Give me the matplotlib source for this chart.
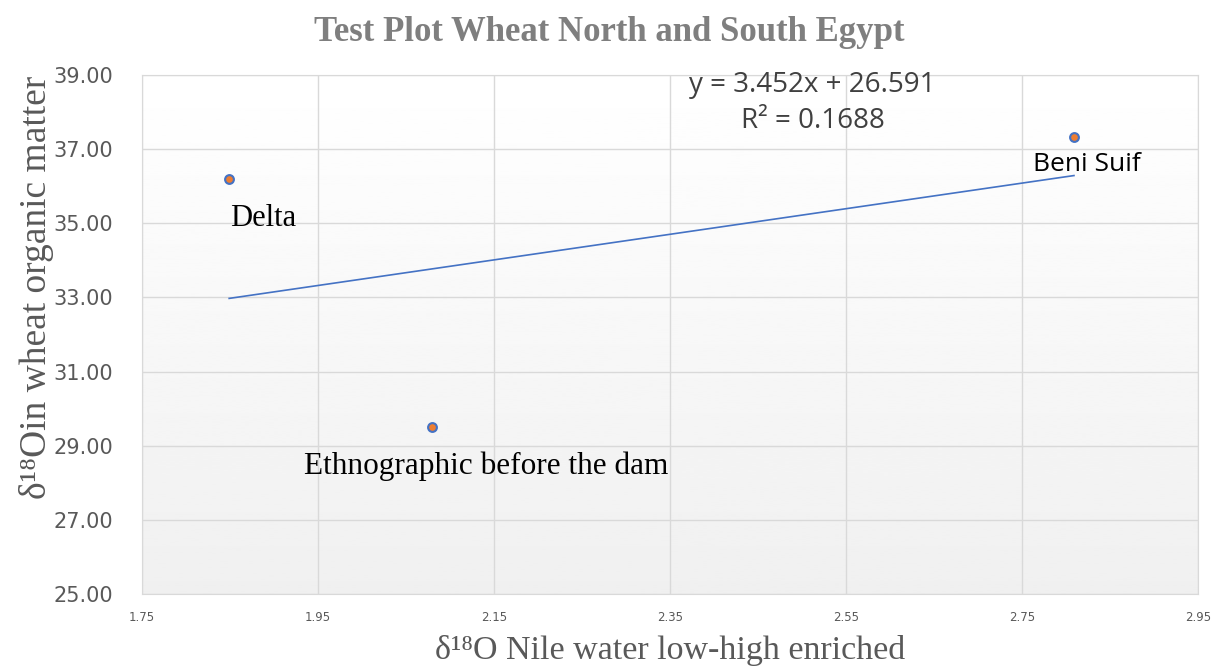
import numpy as np
import matplotlib
matplotlib.use("Agg")
import matplotlib.pyplot as plt
from matplotlib import font_manager

# data
sites = ["Delta", "Ethnographic before the dam", "Beni Suif"]
nile_d18o = [1.849, 2.079, 2.809]
wheat_d18o = [36.19, 29.50, 37.33]

# excel linear trendline as shown on the chart
slope = 3.452
intercept = 26.591
r2 = 0.1688

xticks = [1.75, 1.95, 2.15, 2.35, 2.55, 2.75, 2.95]
yticks = [25, 27, 29, 31, 33, 35, 37, 39]

# narrow font for the small x tick labels if it is there
names = set(f.name for f in font_manager.fontManager.ttflist)
narrow = "Liberation Sans Narrow" if "Liberation Sans Narrow" in names else "DejaVu Sans"

fig = plt.figure(figsize=(12.11, 6.68), dpi=100)
ax = fig.add_axes([0.1173, 0.1108, 0.872, 0.7769])

# gradient background white (top) -> light grey (bottom)
grad = np.linspace(1.0, 0.94, 256).reshape(-1, 1)
ax.imshow(grad, cmap="gray", vmin=0, vmax=1, aspect="auto",
          extent=[0, 1, 0, 1], transform=ax.transAxes, zorder=0)

ax.set_xlim(1.75, 2.95)
ax.set_ylim(25, 39)
ax.set_xticks(xticks)
ax.set_yticks(yticks)
ax.set_xticklabels(["%.2f" % v for v in xticks], fontsize=8.5, color="#595959",
                   family=narrow)
ax.set_yticklabels(["%.2f" % v for v in yticks], fontsize=15, color="#595959",
                   family="DejaVu Sans")
ax.tick_params(length=0)
ax.tick_params(axis="x", pad=12)
ax.tick_params(axis="y", pad=21)
ax.grid(True, color="#d9d9d9", linewidth=1)
ax.set_axisbelow(True)
for s in ax.spines.values():
    s.set_color("#d9d9d9")

# trendline
xs = np.array([min(nile_d18o), max(nile_d18o)])
ax.plot(xs, slope * xs + intercept, color="#4472C4", linewidth=1.2, zorder=3)

ax.scatter(nile_d18o, wheat_d18o, s=40, color="#ED7D31", edgecolor="#4472C4",
           linewidth=1.5, zorder=4)

# point labels
ax.text(nile_d18o[0] + 0.001, wheat_d18o[0] - 1.05, sites[0], fontsize=22,
        family="Liberation Serif", va="center", ha="left")
ax.text(nile_d18o[1] - 0.145, wheat_d18o[1] - 1.05, sites[1], fontsize=22.5,
        family="Liberation Serif", va="center", ha="left")
ax.text(nile_d18o[2] - 0.046, wheat_d18o[2] - 0.75, sites[2], fontsize=19,
        family="Open Sans", va="center", ha="left")

ax.text(2.512, 38.72, "y = %.3fx + %.3f" % (slope, intercept), fontsize=20,
        color="#404040", ha="center", va="center", family="Open Sans")
ax.text(2.512, 37.75, "R² = %.4f" % r2, fontsize=20,
        color="#404040", ha="center", va="center", family="Open Sans")

fig.text(0.503, 0.952, "Test Plot Wheat North and South Egypt", fontsize=25,
         fontweight="bold", color="#7f7f7f", ha="center", va="center",
         family="Liberation Serif")
ax.set_xlabel("δ¹⁸O Nile water low-high enriched", fontsize=24.5, color="#595959",
              family="Liberation Serif", labelpad=8)
ax.set_ylabel("δ¹⁸Oin wheat organic matter", fontsize=27, color="#595959",
              family="Liberation Serif")
ax.yaxis.set_label_coords(-0.083, 0.59)

fig.savefig("out.png", dpi=100)
